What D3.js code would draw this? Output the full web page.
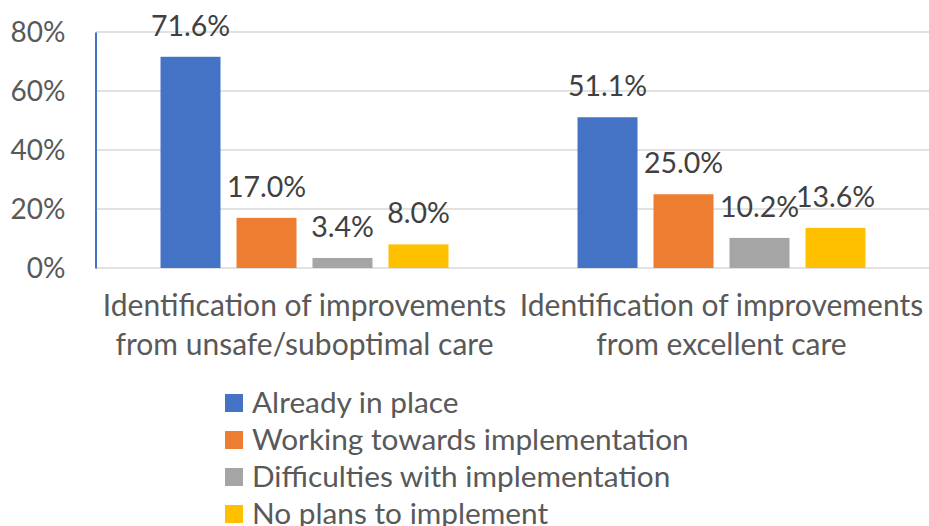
<!DOCTYPE html>
<html><head><meta charset="utf-8">
<script src="https://cdn.jsdelivr.net/npm/d3@7"></script>
<style>body{margin:0;background:#fff}svg{display:block}text{font-family:Lato,"Open Sans",sans-serif}</style>
</head><body>
<svg id="c" width="929" height="526"></svg>
<script>
const categories = [
  ["Identification of improvements", "from unsafe/suboptimal care"],
  ["Identification of improvements", "from excellent care"]
];
const series = ["Already in place", "Working towards implementation", "Difficulties with implementation", "No plans to implement"];
const colors = ["#4472c4", "#ed7d31", "#a5a5a5", "#ffc000"];
const values = [
  [71.6, 17.0, 3.4, 8.0],
  [51.1, 25.0, 10.2, 13.6]
];
const yTicks = [0, 20, 40, 60, 80];

const svg = d3.select("#c");
const x0 = d3.scaleBand().domain(d3.range(categories.length)).range([96, 930]);
const x1 = d3.scaleBand().domain(d3.range(series.length)).range([0, x0.bandwidth()])
  .paddingInner(16/76).paddingOuter(0.849);
const y = d3.scaleLinear().domain([0, 80]).range([268, 32]);

// gridlines
svg.append("g").selectAll("line").data(yTicks).join("line")
  .attr("x1", 96).attr("x2", 929).attr("y1", d => y(d)).attr("y2", d => y(d))
  .attr("stroke", "#d9d9d9").attr("stroke-width", 1.3);

// y axis
const yAxis = d3.axisLeft(y).tickValues(yTicks).tickFormat(d => d + "%").tickSize(0).tickPadding(30);
const ga = svg.append("g").attr("transform", "translate(95.5,0)").call(yAxis);
ga.select(".domain").attr("stroke", "#4472c4").attr("stroke-width", 2);
ga.selectAll("text").attr("fill", "#595959").style("font-size", "28px").attr("dy", "0.35em");

// bars
const groups = svg.append("g").selectAll("g").data(values).join("g")
  .attr("transform", (d, i) => `translate(${x0(i)},0)`);
groups.selectAll("rect").data(d => d).join("rect")
  .attr("x", (d, j) => x1(j)).attr("width", x1.bandwidth())
  .attr("y", d => y(d)).attr("height", d => y(0) - y(d))
  .attr("fill", (d, j) => colors[j]);
groups.selectAll("text").data(d => d).join("text")
  .attr("x", (d, j) => x1(j) + x1.bandwidth() / 2).attr("y", d => y(d) - 21)
  .attr("text-anchor", "middle").attr("fill", "#404040").style("font-size", "28.5px")
  .text(d => d.toFixed(1) + "%");

// category labels
svg.append("g").selectAll("text").data(categories).join("text")
  .attr("text-anchor", "middle").attr("fill", "#595959").style("font-size", "30px")
  .each(function(d, i) {
    d3.select(this).selectAll("tspan").data(d).join("tspan")
      .attr("x", x0(i) + x0.bandwidth() / 2).attr("y", (t, k) => 316 + k * 39).text(t => t);
  });

// legend
const lg = svg.append("g").selectAll("g").data(series).join("g")
  .attr("transform", (d, i) => `translate(225,${394 + i * 37})`);
lg.append("rect").attr("width", 18).attr("height", 18).attr("fill", (d, i) => colors[i]);
lg.append("text").attr("x", 27).attr("y", 19).attr("fill", "#595959").style("font-size", "29.8px").text(d => d);
</script>
</body></html>
